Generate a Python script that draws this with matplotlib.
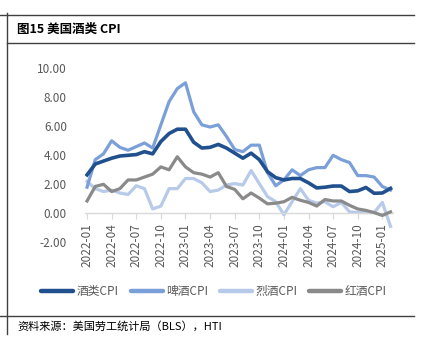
"""
图15 美国酒类 CPI
Generates: out.png
"""
import matplotlib
matplotlib.use('Agg')
import matplotlib.pyplot as plt
from matplotlib.lines import Line2D

plt.rcParams['font.family'] = ['Noto Sans CJK SC', 'DejaVu Sans']

# --- data ---
months = [f'{y}-{m:02d}' for y in (2022, 2023, 2024) for m in range(1, 13)] + ['2025-01', '2025-02']

liquor_cpi = [2.65, 3.4, 3.6, 3.8, 3.95, 4.0, 4.05, 4.25, 4.1, 4.95,
              5.5, 5.8, 5.8, 4.9, 4.5, 4.55, 4.75, 4.5, 4.15, 3.8,
              4.15, 3.7, 2.87, 2.46, 2.3, 2.4, 2.4, 2.1, 1.75, 1.8,
              1.88, 1.88, 1.5, 1.55, 1.78, 1.38, 1.4, 1.72]
beer_cpi = [1.8, 3.7, 4.1, 5.0, 4.55, 4.35, 4.6, 4.85, 4.5, 6.1,
            7.7, 8.6, 9.0, 7.0, 6.1, 5.95, 6.1, 5.3, 4.4, 4.25,
            4.7, 4.7, 2.8, 1.9, 2.3, 3.0, 2.6, 3.0, 3.15, 3.15,
            4.0, 3.7, 3.5, 2.6, 2.6, 2.5, 1.85, 1.6]
spirits_cpi = [2.2, 1.7, 1.5, 1.6, 1.4, 1.3, 1.9, 1.7, 0.3, 0.5,
               1.7, 1.7, 2.4, 2.4, 2.1, 1.5, 1.6, 1.95, 2.05, 1.95,
               2.95, 2.05, 1.15, 0.8, -0.1, 0.8, 1.7, 0.9, 0.7, 0.8,
               0.45, 0.75, 0.1, 0.05, 0.05, 0.05, 0.75, -0.9]
wine_cpi = [0.85, 1.85, 2.0, 1.5, 1.7, 2.3, 2.3, 2.5, 2.7, 3.2,
            3.0, 3.9, 3.2, 2.8, 2.7, 2.5, 2.8, 1.85, 1.65, 1.0,
            1.4, 1.05, 0.65, 0.7, 0.8, 1.1, 0.9, 0.75, 0.5, 0.95,
            0.85, 0.85, 0.55, 0.3, 0.2, 0.05, -0.15, 0.1]

series_names = ['酒类CPI', '啤酒CPI', '烈酒CPI', '红酒CPI']
yticks = [-2, 0, 2, 4, 6, 8, 10]

W, H = 423, 355
fig = plt.figure(figsize=(W / 100, H / 100), dpi=100)

def px(x, y):
    return x / W, 1 - y / H

# axes placed in pixel terms of the reference
x0, y0 = px(85, 242.3)
x1, y1 = px(393, 68.3)
ax = fig.add_axes([x0, y0, x1 - x0, y1 - y0])

xs = range(len(months))
ax.plot(xs, liquor_cpi, color='#21508f', lw=2.6, label=series_names[0], zorder=5,
        solid_joinstyle='round')
ax.plot(xs, beer_cpi, color='#7b9fd8', lw=2.3, label=series_names[1], zorder=3,
        solid_joinstyle='round')
ax.plot(xs, spirits_cpi, color='#b7cae9', lw=2.3, label=series_names[2], zorder=2,
        solid_joinstyle='round')
ax.plot(xs, wine_cpi, color='#8a8a8a', lw=2.3, label=series_names[3], zorder=4,
        solid_joinstyle='round')

for s in ('top', 'right', 'left'):
    ax.spines[s].set_visible(False)
# x axis crosses at 0 (set before ticks: set_position resets them)
ax.spines['bottom'].set_position(('data', 0))
ax.spines['bottom'].set_color('#d9d9d9')
ax.spines['bottom'].set_linewidth(1.0)

ax.set_xlim(-0.25, len(months) - 0.7)
ax.set_ylim(-2, 10)
ax.set_yticks(yticks)
ax.set_yticklabels([f'{v:.2f}' for v in yticks])
ax.set_xticks(list(xs)[::3])
ax.set_xticklabels(months[::3])
ax.tick_params(axis='x', direction='out', length=4, color='#d9d9d9',
               labelsize=8.5, labelcolor='#595959', pad=3, labelrotation=90)
ax.tick_params(axis='y', length=0, labelsize=8.5, labelcolor='#595959', pad=13)

handles = [Line2D([], [], color=c, lw=3.2, solid_capstyle='round')
           for c in ('#21508f', '#7b9fd8', '#b7cae9', '#8a8a8a')]
lx, ly = px(214, 292)
fig.legend(handles, series_names, loc='center', bbox_to_anchor=(lx, ly), ncol=4,
           frameon=False, fontsize=8.5, handlelength=2.7, handletextpad=0.3,
           columnspacing=1.0, labelcolor='#595959')

# report frame
frame = [((0, 15), (414, 15)), ((7, 42.5), (414, 42.5)),
         ((0, 315.7), (414, 315.7)), ((7, 13), (7, 334))]
for (xa, ya), (xb, yb) in frame:
    fa, fb = px(xa, ya), px(xb, yb)
    fig.add_artist(Line2D([fa[0], fb[0]], [fa[1], fb[1]], color='#404040', lw=1.0))

tx, ty = px(17, 29)
fig.text(tx, ty, '图15 美国酒类 CPI', fontsize=9, fontweight='bold', va='center', ha='left')
sx, sy = px(17, 326)
fig.text(sx, sy, '资料来源：美国劳工统计局（BLS），HTI', fontsize=8, va='center', ha='left')

fig.savefig('out.png', dpi=100)
plt.close()
print("done")
